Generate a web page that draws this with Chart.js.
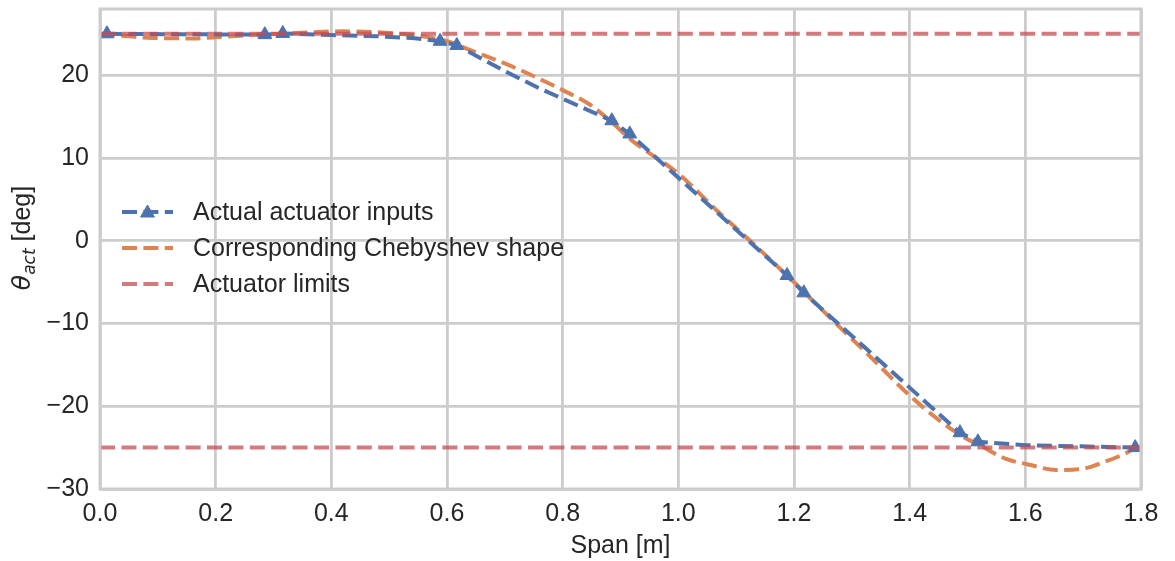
<!DOCTYPE html>
<html>
<head>
<meta charset="utf-8">
<script src="https://cdn.jsdelivr.net/npm/chart.js@4/dist/chart.umd.min.js"></script>
<style>
  body { margin: 0; background: #fff; }
</style>
</head>
<body>
<canvas id="chart" width="1175" height="561"></canvas>
<script>
// actuator inputs along the span (markers only where inputMarked is 1)
const inputSpan = [0.012, 0.285, 0.316, 0.40, 0.48, 0.54, 0.588, 0.617, 0.70, 0.76, 0.885, 0.916, 1.188, 1.217, 1.487, 1.518, 1.60, 1.79];
const inputDeg = [25.0, 24.9, 25.05, 24.85, 24.7, 24.5, 24.1, 23.6, 20.5, 18.4, 14.5, 12.9, -4.2, -6.3, -23.2, -24.3, -24.7, -25.0];
const inputMarked = [1, 1, 1, 0, 0, 0, 1, 1, 0, 0, 1, 1, 1, 1, 1, 1, 0, 1];

// fitted Chebyshev shape
const chebSpan = [0.0, 0.05, 0.09, 0.16, 0.2, 0.25, 0.34, 0.42, 0.51, 0.567, 0.6, 0.645, 0.704, 0.74, 0.8, 0.848, 0.885, 0.92, 1.0, 1.072, 1.124, 1.2, 1.268, 1.326, 1.4, 1.453, 1.5, 1.518, 1.568, 1.603, 1.654, 1.695, 1.741, 1.776, 1.8];
const chebDeg = [25.0, 24.7, 24.5, 24.45, 24.6, 24.8, 25.1, 25.3, 25.05, 24.6, 24.1, 22.9, 21.3, 20.2, 18.2, 16.4, 14.3, 12.1, 8.1, 3.3, 0.0, -5.0, -9.7, -13.6, -18.7, -21.8, -24.0, -24.6, -26.4, -27.0, -27.7, -27.6, -26.6, -25.6, -24.6];

// actuator limits
const limitSpan = [0, 1.8];
const limitUpper = [25, 25];
const limitLower = [-25, -25];

const xTicks = [0, 0.2, 0.4, 0.6, 0.8, 1.0, 1.2, 1.4, 1.6, 1.8];
const yTicks = [-30, -20, -10, 0, 10, 20];

const labels = ['Actual actuator inputs', 'Corresponding Chebyshev shape', 'Actuator limits'];

const BLUE = '#4c72b0';
const ORANGE = '#dd8452';
const RED = 'rgba(196,78,82,0.75)';
const GRID = '#cccccc';
const TEXT = '#262626';
const FONT = '"Liberation Sans", Arial, sans-serif';
const LW = 4;
const DASH = [15, 6.4];
const MARK = 8;

function pts(xs, ys) {
    return xs.map(function(x, i) { return { x: x, y: ys[i] }; });
}

// frame round the plot area
const framePlugin = {
    id: 'frame',
    afterDatasetsDraw: function(chart) {
        const a = chart.chartArea, c = chart.ctx;
        c.save();
        c.strokeStyle = GRID;
        c.lineWidth = 3;
        c.strokeRect(a.left, a.top, a.right - a.left, a.bottom - a.top);
        c.restore();
    }
};

// y title with subscript
const yTitlePlugin = {
    id: 'yTitle',
    afterDraw: function(chart) {
        const c = chart.ctx;
        const parts = [
            { t: 'θ', font: 'italic 25px "DejaVu Sans"', dy: 0 },
            { t: 'act', font: 'italic 17px "DejaVu Sans"', dy: 5 },
            { t: ' [deg]', font: '25px ' + FONT, dy: 0 }
        ];
        c.save();
        let w = 0;
        parts.forEach(function(p) { c.font = p.font; p.w = c.measureText(p.t).width; w += p.w; });
        c.translate(30, 238);
        c.rotate(-Math.PI / 2);
        c.fillStyle = TEXT;
        c.textBaseline = 'alphabetic';
        let x = -w / 2;
        parts.forEach(function(p) { c.font = p.font; c.fillText(p.t, x, p.dy); x += p.w; });
        c.restore();
    }
};

// legend drawn inside the axes, no frame
const legendPlugin = {
    id: 'innerLegend',
    afterDraw: function(chart) {
        const c = chart.ctx;
        const rows = [0, 1, 2];
        c.save();
        rows.forEach(function(di, i) {
            const ds = chart.data.datasets[di];
            const y = 212 + i * 36;
            c.setLineDash(ds.borderDash);
            c.strokeStyle = ds.borderColor;
            c.lineWidth = ds.borderWidth;
            c.beginPath();
            c.moveTo(122, y);
            c.lineTo(173, y);
            c.stroke();
            c.setLineDash([]);
            if (di === 0) {
                c.fillStyle = BLUE;
                c.strokeStyle = BLUE;
                c.lineWidth = 1;
                Chart.helpers.drawPoint(c, { pointStyle: 'triangle', radius: MARK, rotation: 0, borderWidth: 1 }, 147.5, y + 1);
            }
            c.fillStyle = TEXT;
            c.font = '25px ' + FONT;
            c.textBaseline = 'middle';
            c.fillText(labels[i], 193, y + 1);
        });
        c.restore();
    }
};

new Chart(document.getElementById('chart'), {
    type: 'line',
    data: {
        datasets: [{
            label: labels[0],
            data: pts(inputSpan, inputDeg),
            borderColor: BLUE,
            backgroundColor: BLUE,
            borderWidth: LW,
            borderDash: DASH,
            tension: 0,
            pointStyle: 'triangle',
            pointRadius: function(ctx) { return inputMarked[ctx.dataIndex] ? MARK : 0; },
            pointBorderWidth: 1,
            order: 1
        }, {
            label: labels[1],
            data: pts(chebSpan, chebDeg),
            borderColor: ORANGE,
            borderWidth: LW,
            borderDash: DASH,
            cubicInterpolationMode: 'monotone',
            pointRadius: 0,
            order: 2
        }, {
            label: labels[2],
            data: pts(limitSpan, limitUpper),
            borderColor: RED,
            borderWidth: LW,
            borderDash: DASH,
            pointRadius: 0,
            order: 0
        }, {
            label: labels[2],
            data: pts(limitSpan, limitLower),
            borderColor: RED,
            borderWidth: LW,
            borderDash: DASH,
            pointRadius: 0,
            order: 0
        }]
    },
    options: {
        responsive: false,
        devicePixelRatio: 1,
        animation: false,
        events: [],
        layout: { padding: { left: 0, right: 34, top: 8, bottom: 0 } },
        plugins: {
            legend: { display: false },
            tooltip: { enabled: false }
        },
        scales: {
            x: {
                type: 'linear',
                min: 0,
                max: 1.8,
                afterBuildTicks: function(s) { s.ticks = xTicks.map(function(v) { return { value: v }; }); },
                afterFit: function(s) { s.height = 72; s.paddingLeft = 0; s.paddingRight = 0; },
                grid: { color: GRID, lineWidth: 2.8, drawTicks: false },
                border: { display: false },
                ticks: {
                    padding: 10,
                    color: TEXT,
                    font: { family: FONT, size: 25 },
                    maxRotation: 0,
                    callback: function(v) { return Number(v).toFixed(1); }
                },
                title: {
                    display: true,
                    text: 'Span [m]',
                    color: TEXT,
                    font: { family: FONT, size: 25 },
                    padding: { top: 0, bottom: 0 }
                }
            },
            y: {
                type: 'linear',
                min: -30,
                max: 28,
                afterBuildTicks: function(s) { s.ticks = yTicks.map(function(v) { return { value: v }; }); },
                afterFit: function(s) { s.width = 100; s.paddingTop = 0; s.paddingBottom = 0; },
                grid: { color: GRID, lineWidth: 2.8, drawTicks: false },
                border: { display: false },
                ticks: {
                    padding: 11,
                    color: TEXT,
                    font: { family: FONT, size: 25 },
                    callback: function(v) { return v < 0 ? '\u2212' + Math.abs(v) : String(v); }
                }
            }
        }
    },
    plugins: [framePlugin, yTitlePlugin, legendPlugin]
});
</script>
</body>
</html>
